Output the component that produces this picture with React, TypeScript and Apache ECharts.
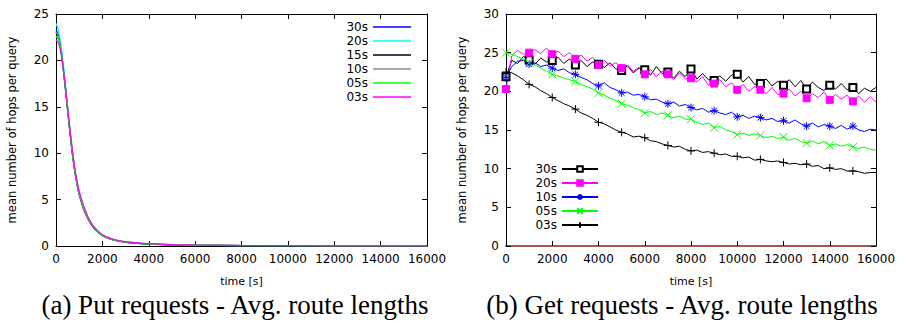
import React, { useEffect, useRef } from "react";
import * as echarts from "echarts";

// ---------- (a) Put requests ----------
const PUT_TIMES = [0, 100, 200, 300, 400, 500, 600, 700, 800, 900, 1000, 1200, 1400, 1600, 1800, 2000, 2300, 2600, 3000, 3500, 4000, 5000, 6000, 8000, 10000, 12000, 14000, 16000];
const PUT_NAMES = ["30s", "20s", "15s", "10s", "05s", "03s"];
const PUT_30S = [23.3, 22.8, 21.6, 19.6, 17.3, 14.8, 12.4, 10.2, 8.4, 6.9, 5.7, 4.1, 2.9, 2.1, 1.55, 1.15, 0.8, 0.6, 0.42, 0.3, 0.22, 0.13, 0.08, 0.04, 0.02, 0.01, 0.01, 0.0];
const PUT_20S = [24.0, 23.3, 22.0, 20.0, 17.6, 15.1, 12.6, 10.4, 8.5, 7.0, 5.8, 4.2, 3.0, 2.2, 1.6, 1.2, 0.85, 0.62, 0.44, 0.31, 0.22, 0.13, 0.08, 0.04, 0.02, 0.01, 0.01, 0.0];
const PUT_15S = [23.0, 22.5, 21.3, 19.3, 17.0, 14.6, 12.2, 10.0, 8.2, 6.7, 5.5, 3.9, 2.8, 2.0, 1.5, 1.1, 0.78, 0.57, 0.4, 0.28, 0.2, 0.12, 0.08, 0.04, 0.02, 0.01, 0.01, 0.0];
const PUT_10S = [23.1, 22.6, 21.4, 19.4, 17.1, 14.7, 12.3, 10.1, 8.3, 6.8, 5.6, 4.0, 2.85, 2.05, 1.5, 1.12, 0.8, 0.58, 0.42, 0.3, 0.22, 0.14, 0.09, 0.05, 0.03, 0.02, 0.01, 0.0];
const PUT_05S = [22.6, 22.3, 21.3, 19.5, 17.3, 14.9, 12.5, 10.3, 8.4, 6.9, 5.7, 4.1, 2.9, 2.1, 1.55, 1.15, 0.82, 0.6, 0.43, 0.31, 0.23, 0.14, 0.09, 0.05, 0.03, 0.02, 0.01, 0.0];
const PUT_03S = [22.2, 21.9, 21.0, 19.4, 17.3, 15.0, 12.7, 10.5, 8.6, 7.1, 5.9, 4.3, 3.05, 2.2, 1.65, 1.22, 0.88, 0.65, 0.47, 0.34, 0.26, 0.16, 0.11, 0.06, 0.04, 0.02, 0.01, 0.0];
const PUT_VALUES = [PUT_30S, PUT_20S, PUT_15S, PUT_10S, PUT_05S, PUT_03S];
const PUT_COLORS = ["#0000ff", "#00ffff", "#000000", "#8c8c8c", "#00ff00", "#ff00ff"];

// ---------- (b) Get requests ----------
const GET_TIMES = [0, 250, 500, 750, 1000, 1250, 1500, 1750, 2000, 2250, 2500, 2750, 3000, 3250, 3500, 3750, 4000, 4250, 4500, 4750, 5000, 5250, 5500, 5750, 6000, 6250, 6500, 6750, 7000, 7250, 7500, 7750, 8000, 8250, 8500, 8750, 9000, 9250, 9500, 9750, 10000, 10250, 10500, 10750, 11000, 11250, 11500, 11750, 12000, 12250, 12500, 12750, 13000, 13250, 13500, 13750, 14000, 14250, 14500, 14750, 15000, 15250, 15500, 15750, 16000];
const GET_MARK_TIMES = [0, 1000, 2000, 3000, 4000, 5000, 6000, 7000, 8000, 9000, 10000, 11000, 12000, 13000, 14000, 15000];
const GET_NAMES = ["30s", "20s", "10s", "05s", "03s"];
const GET_30S = [21.9, 24.0, 23.6, 24.5, 24.1, 23.5, 24.3, 23.8, 24.0, 24.4, 23.6, 24.2, 23.4, 24.0, 23.2, 23.8, 23.5, 23.1, 23.7, 22.9, 22.7, 23.3, 22.4, 23.0, 22.8, 22.1, 23.2, 22.3, 22.5, 21.7, 22.6, 21.9, 22.9, 21.6, 22.3, 21.5, 21.4, 22.0, 21.3, 22.1, 22.2, 21.2, 21.9, 20.9, 21.0, 21.6, 20.7, 21.3, 20.8, 21.5, 20.6, 21.4, 20.3, 21.2, 20.5, 20.1, 20.8, 20.3, 21.0, 20.2, 20.5, 19.7, 20.4, 20.0, 20.5];
const GET_20S = [20.3, 24.6, 25.3, 24.8, 25.0, 25.4, 24.9, 25.6, 24.8, 25.2, 24.5, 25.0, 24.2, 24.7, 23.9, 24.4, 23.4, 24.0, 23.3, 23.7, 23.0, 23.4, 22.6, 23.1, 22.2, 22.8, 21.9, 22.6, 22.2, 21.5, 22.4, 21.6, 21.7, 21.2, 21.9, 20.8, 21.0, 21.5, 20.6, 21.1, 20.2, 20.9, 20.0, 20.6, 20.2, 19.7, 20.5, 19.6, 19.7, 20.3, 19.4, 20.0, 19.1, 19.7, 19.2, 19.9, 18.9, 19.6, 19.0, 19.5, 18.7, 19.4, 18.6, 19.3, 18.6];
const GET_10S = [21.8, 23.2, 23.9, 24.0, 23.5, 23.7, 23.2, 23.4, 23.0, 22.7, 22.9, 22.4, 22.2, 21.8, 21.5, 21.0, 20.7, 21.1, 20.5, 20.2, 19.8, 19.9, 19.5, 19.6, 19.3, 18.9, 19.0, 18.6, 18.4, 18.6, 18.1, 18.3, 17.9, 17.6, 17.8, 17.3, 17.5, 17.2, 17.0, 17.3, 16.7, 16.9, 16.5, 16.8, 16.6, 16.3, 16.5, 16.1, 16.2, 15.9, 16.3, 15.8, 15.5, 15.9, 15.4, 15.7, 15.5, 15.2, 15.6, 15.1, 15.5, 15.0, 14.8, 15.1, 15.0];
const GET_05S = [25.0, 24.8, 24.5, 24.1, 23.7, 23.4, 23.0, 22.6, 22.2, 22.0, 21.7, 21.5, 21.3, 20.9, 20.6, 20.3, 19.8, 19.5, 19.1, 18.8, 18.4, 18.2, 17.9, 17.6, 17.2, 17.4, 17.0, 17.2, 16.9, 16.6, 16.8, 16.4, 16.4, 16.0, 15.7, 15.9, 15.3, 15.5, 15.0, 14.8, 14.4, 14.6, 14.3, 14.5, 14.3, 14.0, 14.2, 13.9, 14.1, 13.7, 13.9, 13.5, 13.3, 13.6, 13.2, 13.5, 13.0, 13.2, 12.9, 13.1, 12.8, 12.6, 12.8, 12.5, 12.4];
const GET_03S = [22.5, 22.4, 22.0, 21.5, 20.9, 20.6, 20.1, 19.7, 19.2, 18.8, 18.4, 18.1, 17.7, 17.2, 16.9, 16.5, 16.0, 15.8, 15.4, 15.0, 14.7, 14.5, 14.1, 14.2, 14.0, 13.6, 13.5, 13.2, 13.0, 12.8, 12.9, 12.5, 12.3, 12.4, 12.1, 12.2, 12.0, 11.8, 11.9, 11.6, 11.6, 11.4, 11.5, 11.1, 11.2, 11.0, 10.9, 11.0, 10.8, 10.6, 10.7, 10.5, 10.6, 10.3, 10.4, 10.0, 10.1, 9.9, 10.0, 9.7, 9.7, 9.6, 9.4, 9.5, 9.5];
const GET_VALUES = [GET_30S, GET_20S, GET_10S, GET_05S, GET_03S];
const GET_COLORS = ["#000000", "#ff00ff", "#0000ff", "#00ff00", "#000000"];
const GET_SYMBOLS = [
  "emptyRect",
  "rect",
  "path://M0,5L10,5M5,0L5,10M1.5,1.5L8.5,8.5M8.5,1.5L1.5,8.5",
  "path://M0,0L10,10M10,0L0,10",
  "path://M0,5L10,5M5,0L5,10",
];
const GET_SYMBOL_SIZES = [7, 7, 8, 8, 8];

const CAPTION_A = "(a) Put requests - Avg. route lengths";
const CAPTION_B = "(b) Get requests - Avg. route lengths";
const X_NAME = "time [s]";
const Y_NAME = "mean number of hops per query";

const SANS = "DejaVu Sans";

function makeAxes(gridIndex: number, yMax: number, bottomColor: string) {
  const tick = { show: true, inside: true, length: 5, lineStyle: { color: "#000", width: 1 } };
  const label = { color: "#000", fontFamily: SANS, fontSize: 12, formatter: (v: number) => String(v) };
  const xAxes = [
    {
      type: "value", gridIndex, position: "bottom", min: 0, max: 16000, interval: 2000,
      axisLine: { show: true, onZero: false, lineStyle: { color: bottomColor, width: bottomColor === "#000" ? 1 : 1.6 } },
      axisTick: tick, splitLine: { show: false },
      axisLabel: { ...label, margin: 7 },
      name: X_NAME, nameLocation: "middle", nameGap: 30,
      nameTextStyle: { color: "#000", fontFamily: SANS, fontSize: 11 },
    },
    {
      type: "value", gridIndex, position: "top", min: 0, max: 16000, interval: 2000,
      axisLine: { show: true, onZero: false, lineStyle: { color: "#000", width: 1 } },
      axisTick: tick, splitLine: { show: false }, axisLabel: { show: false },
    },
  ];
  const yAxes = [
    {
      type: "value", gridIndex, position: "left", min: 0, max: yMax, interval: 5,
      axisLine: { show: true, onZero: false, lineStyle: { color: "#000", width: 1 } },
      axisTick: tick, splitLine: { show: false },
      axisLabel: { ...label, margin: 7 },
      name: Y_NAME, nameLocation: "middle", nameGap: 38,
      nameTextStyle: { color: "#000", fontFamily: SANS, fontSize: 11.5 },
    },
    {
      type: "value", gridIndex, position: "right", min: 0, max: yMax, interval: 5,
      axisLine: { show: true, onZero: false, lineStyle: { color: "#000", width: 1 } },
      axisTick: tick, splitLine: { show: false }, axisLabel: { show: false },
    },
  ];
  return { xAxes, yAxes };
}

export default function App() {
  const ref = useRef<HTMLDivElement>(null);
  useEffect(() => {
    if (!ref.current) return;
    const chart = echarts.init(ref.current, undefined, { renderer: "svg" });
    const a = makeAxes(0, 25, "#000");
    const b = makeAxes(1, 30, "#8b1c1c");

    const putSeries = PUT_NAMES.map((n, i) => ({
      name: "put-" + n,
      type: "line",
      xAxisIndex: 0,
      yAxisIndex: 0,
      symbol: "none",
      smooth: 0.2,
      data: PUT_TIMES.map((t, k) => [t, PUT_VALUES[i][k]]),
      lineStyle: { color: PUT_COLORS[i], width: 1.2 },
      itemStyle: { color: PUT_COLORS[i] },
    }));

    const getSeries = GET_NAMES.map((n, i) => ({
      name: "get-" + n,
      type: "line",
      xAxisIndex: 2,
      yAxisIndex: 2,
      symbol: GET_SYMBOLS[i],
      symbolSize: GET_SYMBOL_SIZES[i],
      showSymbol: true,
      showAllSymbol: true,
      data: GET_TIMES.map((t, k) =>
        GET_MARK_TIMES.includes(t)
          ? { value: [t, GET_VALUES[i][k]] }
          : { value: [t, GET_VALUES[i][k]], symbol: "none" }
      ),
      lineStyle: { color: GET_COLORS[i], width: 1 },
      itemStyle: { color: GET_COLORS[i], borderColor: GET_COLORS[i], borderWidth: 1 },
    }));

    const fmt = (name: string) => name.replace(/^(put|get)-/, "");

    chart.setOption({
      animation: false,
      backgroundColor: "#fff",
      grid: [
        { left: 56, top: 14, width: 371, height: 232 },
        { left: 506, top: 14, width: 370, height: 232 },
      ],
      xAxis: [...a.xAxes, ...b.xAxes],
      yAxis: [...a.yAxes, ...b.yAxes],
      legend: [
        {
          data: PUT_NAMES.map((n) => "put-" + n),
          orient: "vertical", align: "right", right: 486, top: 15,
          icon: "rect",
          itemWidth: 38, itemHeight: 1.3, itemGap: 0,
          formatter: fmt, selectedMode: false,
          textStyle: { color: "#000", fontFamily: SANS, fontSize: 12, lineHeight: 14 },
        },
        {
          data: GET_NAMES.map((n) => "get-" + n),
          orient: "vertical", align: "right", right: 298, top: 157,
          itemWidth: 36, itemHeight: 7, itemGap: 0,
          formatter: fmt, selectedMode: false,
          textStyle: { color: "#000", fontFamily: SANS, fontSize: 12, lineHeight: 14 },
        },
      ],
      graphic: [
        {
          type: "text", x: 235, y: 305,
          style: { text: CAPTION_A, fill: "#000", font: '27px "Liberation Serif"', align: "center", verticalAlign: "middle", textAlign: "center", textVerticalAlign: "middle" },
        },
        {
          type: "text", x: 682, y: 305,
          style: { text: CAPTION_B, fill: "#000", font: '27px "Liberation Serif"', align: "center", verticalAlign: "middle", textAlign: "center", textVerticalAlign: "middle" },
        },
      ],
      series: [...putSeries, ...getSeries],
    });
    return () => chart.dispose();
  }, []);
  return <div ref={ref} style={{ position: "fixed", left: 0, top: 0, width: 902, height: 323 }} />;
}
